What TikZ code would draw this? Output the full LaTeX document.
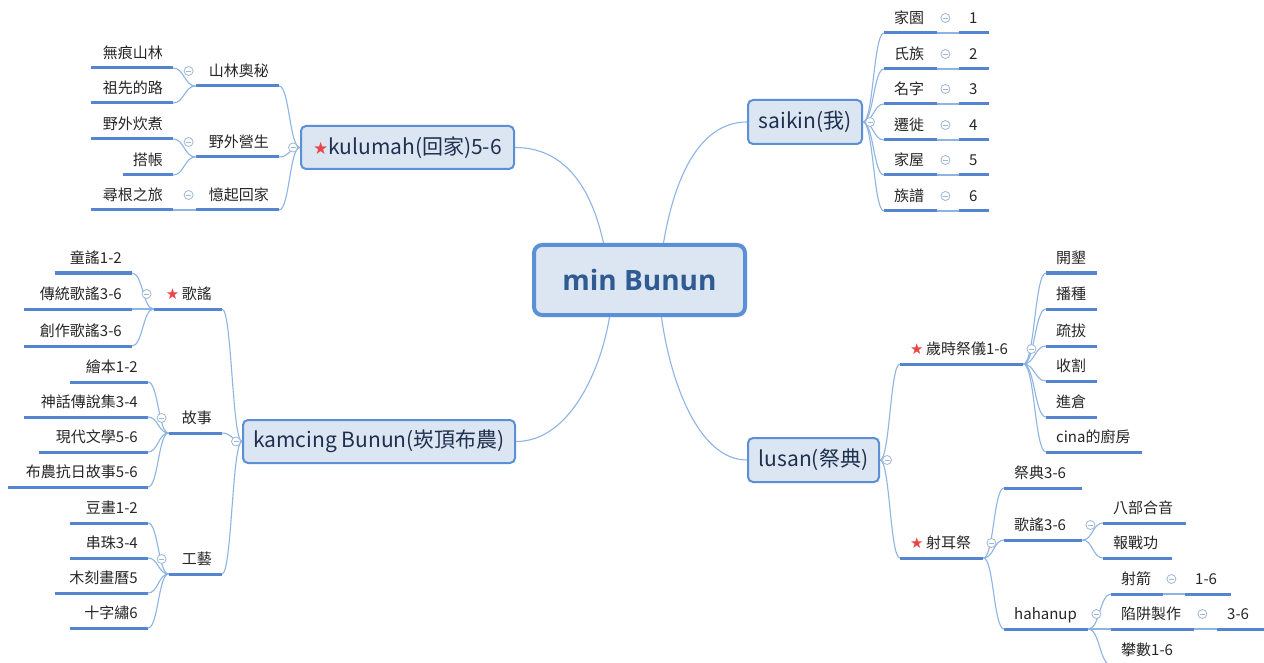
\documentclass[tikz,border=0pt]{standalone}
\usepackage{fontspec}
\setmainfont{Noto Sans CJK TC}
\newfontfamily\symfont{DejaVu Sans}
\newfontfamily\boldlatin{Open Sans}
\usetikzlibrary{calc}
\definecolor{conncol}{HTML}{8DB4E2}
\definecolor{ulcol}{HTML}{5585D0}
\definecolor{boxborder}{HTML}{5B8FD6}
\definecolor{boxfill}{HTML}{DCE6F2}
\definecolor{boxtext}{HTML}{1F2F4F}
\definecolor{centertext}{HTML}{2F5A92}
\definecolor{leaftext}{HTML}{262626}
\definecolor{collcol}{HTML}{9DB7D9}
\definecolor{starred}{HTML}{E8474A}
\newcommand\rstar{\textcolor{starred}{\symfont ★}}
\newcommand\link[2]{\path ($(#1)!.5!(#2)$) coordinate (lkm);
  \draw[conn] (#1) .. controls (lkm |- #1) and (lkm |- #2) .. (#2);}
\newcommand\slink[2]{\draw[conn] (#1) -- (#2);}
\newcommand\coll[1]{\node[collapse] at (#1) {};}
\tikzset{
  conn/.style={draw=conncol, line width=1.1pt},
  uline/.style={draw=ulcol, line width=3pt},
  mainbox/.style={draw=boxborder, fill=boxfill, line width=2pt, rounded corners=5pt,
    text=boxtext, font=\fontsize{21}{25}\selectfont, inner sep=0pt},
  centerbox/.style={draw=boxborder, fill=boxfill, line width=4pt, rounded corners=8pt,
    text=centertext, font=\boldlatin\bfseries\fontsize{28}{32}\selectfont, inner sep=0pt},
  topic/.style={inner ysep=0pt, inner xsep=10pt, minimum height=27pt, text height=11pt,
    text depth=3pt, text=leaftext, font=\fontsize{15}{18}\selectfont},
  ltopic/.style={topic, anchor=south east, text width={#1-20pt}, align=right},
  rtopic/.style={topic, anchor=south west, text width={#1-20pt}, align=left},
  collapse/.style={circle, draw=collcol, fill=white, line width=0.8pt, minimum size=9pt,
    inner sep=0pt, path picture={\draw[collcol, line width=0.8pt]
      ([xshift=-2.5pt]path picture bounding box.center) --
      ([xshift=2.5pt]path picture bounding box.center);}}
}
\begin{document}
\begin{tikzpicture}[x=1pt,y=-1pt]
\fill[white] (0,0) rectangle (1264,663);
\useasboundingbox (0,0) rectangle (1264,663);

% central and main boxes
\node[centerbox, minimum width=211, minimum height=70] (c) at (639.5,280) {min Bunun};
\node[mainbox, minimum width=213, minimum height=43] (kul) at (407.5,147.5)
  {{\fontsize{17}{20}\selectfont\rstar}kulumah(回家)5-6};
\node[mainbox, minimum width=114, minimum height=44] (sai) at (805,122) {saikin(我)};
\node[mainbox, minimum width=272, minimum height=43] (kam) at (379,441.5) {kamcing Bunun(崁頂布農)};
\node[mainbox, minimum width=131, minimum height=44] (lus) at (813.5,460) {lusan(祭典)};

% kulumah subtree
\node[ltopic=83] (k1) at (279,86) {山林奧秘};
\node[ltopic=83] (k2) at (279,157) {野外營生};
\node[ltopic=83] (k3) at (279,210) {憶起回家};
\node[ltopic=82] (k11) at (173,68) {無痕山林};
\node[ltopic=82] (k12) at (173,103) {祖先的路};
\node[ltopic=82] (k21) at (173,139) {野外炊煮};
\node[ltopic=50] (k22) at (173,175) {搭帳};
\node[ltopic=82] (k31) at (173,210) {尋根之旅};

% kamcing subtree
\node[ltopic=68] (m1) at (222,309) {\rstar\,歌謠};
\node[ltopic=53] (m2) at (222,433) {故事};
\node[ltopic=53] (m3) at (222,574) {工藝};
\node[ltopic=77] (m11) at (132,273) {童謠1-2};
\node[ltopic=108] (m12) at (132,309) {傳統歌謠3-6};
\node[ltopic=108] (m13) at (132,346) {創作歌謠3-6};
\node[ltopic=78] (m21) at (148,382) {繪本1-2};
\node[ltopic=124] (m22) at (148,417) {神話傳說集3-4};
\node[ltopic=109] (m23) at (148,452) {現代文學5-6};
\node[ltopic=140] (m24) at (148,487) {布農抗日故事5-6};
\node[ltopic=78] (m31) at (148,523) {豆畫1-2};
\node[ltopic=78] (m32) at (148,558) {串珠3-4};
\node[ltopic=93] (m33) at (148,593) {木刻畫曆5};
\node[ltopic=78] (m34) at (148,628) {十字繡6};

% saikin subtree
\node[rtopic=53] (s1) at (884,33) {家園};
\node[rtopic=53] (s2) at (884,69) {氏族};
\node[rtopic=53] (s3) at (884,104) {名字};
\node[rtopic=53] (s4) at (884,140) {遷徙};
\node[rtopic=53] (s5) at (884,175) {家屋};
\node[rtopic=53] (s6) at (884,211) {族譜};
\node[rtopic=30] (n1) at (959,33) {1};
\node[rtopic=30] (n2) at (959,69) {2};
\node[rtopic=30] (n3) at (959,104) {3};
\node[rtopic=30] (n4) at (959,140) {4};
\node[rtopic=30] (n5) at (959,175) {5};
\node[rtopic=30] (n6) at (959,211) {6};

% lusan subtree
\node[rtopic=123] (l1) at (900,364) {\rstar\,歲時祭儀1-6};
\node[rtopic=83] (l2) at (900,558) {\rstar\,射耳祭};
\node[rtopic=51] (l11) at (1046,273) {開墾};
\node[rtopic=51] (l12) at (1046,309) {播種};
\node[rtopic=51] (l13) at (1046,346) {疏拔};
\node[rtopic=51] (l14) at (1046,381) {收割};
\node[rtopic=51] (l15) at (1046,417) {進倉};
\node[rtopic=96] (l16) at (1046,452) {cina的廚房};
\node[rtopic=78] (l21) at (1004,488) {祭典3-6};
\node[rtopic=78] (l22) at (1004,540) {歌謠3-6};
\node[rtopic=84] (l23) at (1004,629) {hahanup};
\node[rtopic=83] (l221) at (1103,523) {八部合音};
\node[rtopic=69] (l222) at (1103,558) {報戰功};
\node[rtopic=52] (l231) at (1111,594) {射箭};
\node[rtopic=46] (l2311) at (1185,594) {1-6};
\node[rtopic=83] (l232) at (1111,629) {陷阱製作};
\node[rtopic=47] (l2321) at (1217,629) {3-6};
\node[rtopic=92] (l233) at (1111,665) {攀數1-6};

% underlines
\foreach \n in {k1,k2,k3,k11,k12,k21,k22,k31,m1,m2,m3,m11,m12,m13,m21,m22,m23,m24,
  m31,m32,m33,m34,s1,s2,s3,s4,s5,s6,n1,n2,n3,n4,n5,n6,l1,l2,l11,l12,l13,l14,l15,l16,
  l21,l22,l23,l221,l222,l231,l2311,l232,l2321,l233}
  {\draw[uline] (\n.south west) -- (\n.south east);}

% connectors from center
\draw[conn] (kul.east) .. controls +(50,0) and +(-12,-55) .. ([xshift=-36pt]c.north);
\draw[conn] ([xshift=24pt]c.north) .. controls +(10,-60) and +(-50,0) .. (sai.west);
\draw[conn] (kam.east) .. controls +(55,0) and +(-8,50) .. ([xshift=-30pt]c.south);
\draw[conn] ([xshift=22pt]c.south) .. controls +(8,60) and +(-50,0) .. (lus.west);

% kulumah connectors
\link{kul.west}{k1.south east}
\link{kul.west}{k2.south east}
\link{kul.west}{k3.south east}
\link{k1.south west}{k11.south east}
\link{k1.south west}{k12.south east}
\link{k2.south west}{k21.south east}
\link{k2.south west}{k22.south east}
\slink{k3.south west}{k31.south east}

% kamcing connectors
\link{kam.west}{m1.south east}
\link{kam.west}{m2.south east}
\link{kam.west}{m3.south east}
\link{m1.south west}{m11.south east}
\slink{m1.south west}{m12.south east}
\link{m1.south west}{m13.south east}
\foreach \c in {m21,m22,m23,m24} {\link{m2.south west}{\c.south east}}
\foreach \c in {m31,m32,m33,m34} {\link{m3.south west}{\c.south east}}

% saikin connectors
\foreach \c in {s1,s2,s3,s4,s5,s6} {\link{sai.east}{\c.south west}}
\slink{s1.south east}{n1.south west}
\slink{s2.south east}{n2.south west}
\slink{s3.south east}{n3.south west}
\slink{s4.south east}{n4.south west}
\slink{s5.south east}{n5.south west}
\slink{s6.south east}{n6.south west}

% lusan connectors
\link{lus.east}{l1.south west}
\link{lus.east}{l2.south west}
\foreach \c in {l11,l12,l13,l14,l15,l16} {\link{l1.south east}{\c.south west}}
\foreach \c in {l21,l22,l23} {\link{l2.south east}{\c.south west}}
\link{l22.south east}{l221.south west}
\link{l22.south east}{l222.south west}
\link{l23.south east}{l231.south west}
\slink{l23.south east}{l232.south west}
\link{l23.south east}{l233.south west}
\slink{l231.south east}{l2311.south west}
\slink{l232.south east}{l2321.south west}

% collapse markers
\coll{$(kul.west)+(-7,0)$}
\coll{$(sai.east)+(7,0)$}
\coll{$(kam.west)+(-6,0)$}
\coll{$(lus.east)+(7,0)$}
\foreach \n in {k1,k2,k3,m1,m2,m3} {\coll{$(\n.south west)+(-7,-15)$}}
\foreach \n in {s1,s2,s3,s4,s5,s6,l1,l2,l22,l23,l231,l232} {\coll{$(\n.south east)+(8,-15)$}}
\end{tikzpicture}
\end{document}
